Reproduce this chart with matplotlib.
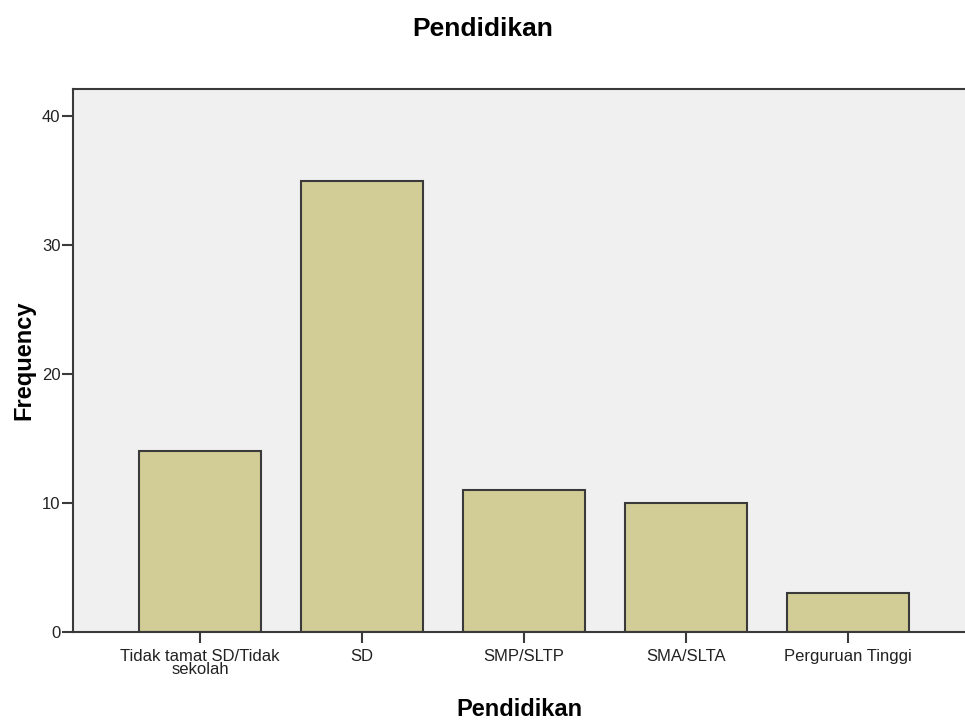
import matplotlib
matplotlib.use("Agg")
import matplotlib.pyplot as plt

categories = ["Tidak tamat SD/Tidak\nsekolah", "SD", "SMP/SLTP", "SMA/SLTA", "Perguruan Tinggi"]
frequency = [14, 35, 11, 10, 3]
y_ticks = [0, 10, 20, 30, 40]

plt.rcParams["font.family"] = ["Liberation Sans", "DejaVu Sans"]

fig = plt.figure(figsize=(9.65, 7.24), dpi=100)
ax = fig.add_axes([73 / 965, 92 / 724, 892 / 965, 543 / 724])
ax.set_facecolor("#F0F0F0")

x = list(range(len(categories)))
ax.bar(x, frequency, width=0.753, color="#D2CD96", edgecolor="#3A3A3A", linewidth=1.5, zorder=2)

ax.set_xlim(-0.784, 4.722)
ax.set_ylim(0, 42.1)
ax.set_yticks(y_ticks)
ax.set_xticks(x)
ax.set_xticklabels(categories, fontsize=12, linespacing=0.85, color="#222222")
ax.tick_params(axis="y", labelsize=12, length=8, width=1.5, color="#3A3A3A", labelcolor="#222222", pad=1)
ax.tick_params(axis="x", length=8, width=1.5, color="#3A3A3A", pad=4)

for side in ["left", "bottom", "top"]:
    ax.spines[side].set_color("#3A3A3A")
    ax.spines[side].set_linewidth(1.5)
ax.spines["right"].set_visible(False)

ax.set_ylabel("Frequency", fontsize=17, fontweight="bold", labelpad=5)
ax.set_xlabel("Pendidikan", fontsize=17, fontweight="bold", labelpad=15)
fig.suptitle("Pendidikan", fontsize=19, fontweight="bold", x=0.5, y=0.977)

fig.savefig("out.png", dpi=100)
